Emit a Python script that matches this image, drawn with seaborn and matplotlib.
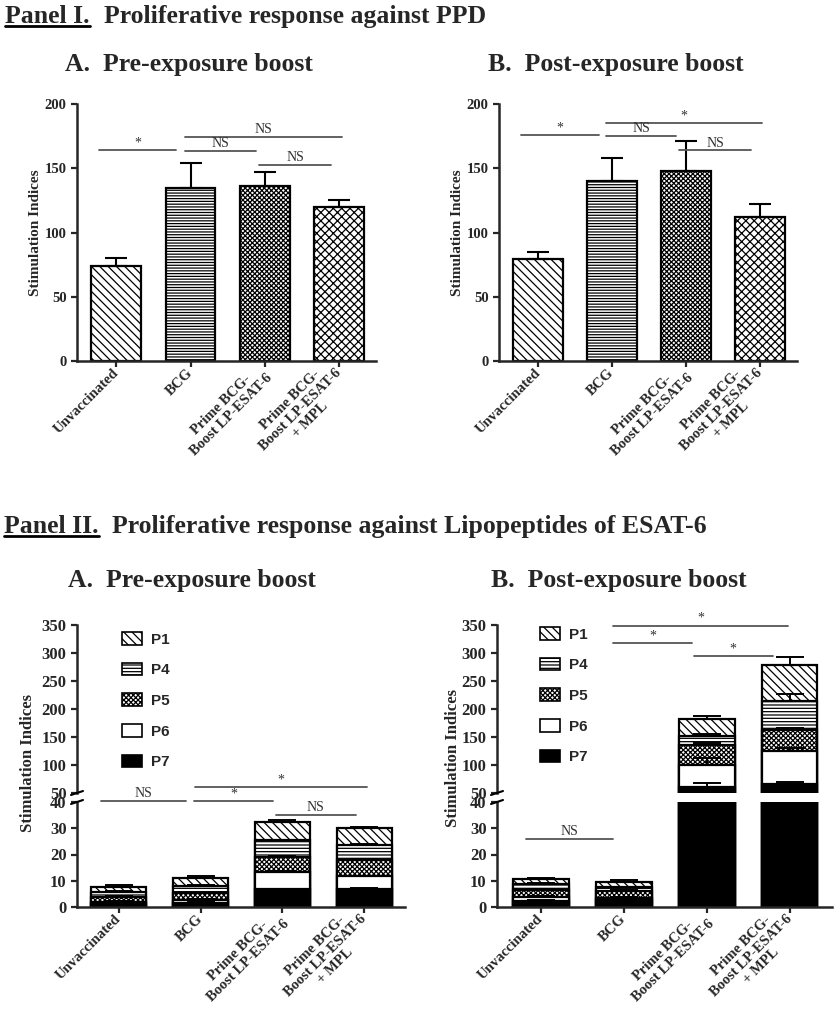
import numpy as np
import pandas as pd
import seaborn as sns
import matplotlib.pyplot as plt
from matplotlib.patches import Patch
from matplotlib.lines import Line2D

# ---- data ----
groups = ["Unvaccinated", "BCG", "Prime BCG-\nBoost LP-ESAT-6",
          "Prime BCG-\nBoost LP-ESAT-6\n+ MPL"]

# Panel I (PPD)
ppd_pre = [74, 135, 136, 120]
ppd_pre_sem = [6, 19, 11, 5]
ppd_post = [79, 140, 148, 112]
ppd_post_sem = [6, 18, 23, 10]

# Panel II (lipopeptides), stacked bottom -> top
peptides = ["P7", "P6", "P5", "P4", "P1"]
pre_p7 = [1.0, 1.5, 6.7, 6.7]
pre_p6 = [1.0, 1.3, 6.7, 5.1]
pre_p5 = [2.0, 2.4, 5.8, 6.1]
pre_p4 = [1.8, 2.8, 6.3, 5.8]
pre_p1 = [2.0, 2.9, 7.0, 6.3]
pre_err = [[0.2, 0.3, 0.3, 0.6], [0.2, 0.3, 0.3, 0.2], [0.2, 0.3, 0.3, 0.5],
           [0.2, 0.3, 0.2, 0.3], [0.4, 0.9, 0.7, 0.3]]

post_p7 = [2.2, 2.7, 60, 66]
post_p6 = [1.7, 0.9, 40, 59]
post_p5 = [2.6, 2.6, 36, 38]
post_p4 = [2.3, 1.3, 16, 52]
post_p1 = [1.8, 2.0, 30, 63]
post_err = [[0.3, 0.3, 8, 4], [0.2, 0.3, 12, 5], [0.3, 0.4, 4, 3],
            [0.2, 0.3, 3, 11], [0.3, 0.8, 6, 15]]

# significance brackets: (x start, x end, y, label)
sig_I_A = [(-0.23, 0.81, 164, "*"), (0.92, 1.88, 163.5, "NS"),
           (0.92, 3.04, 174.5, "NS"), (1.92, 2.90, 152.6, "NS")]
sig_I_B = [(-0.23, 0.82, 176, "*"), (0.92, 1.87, 175, "NS"),
           (0.92, 3.03, 185, "*"), (1.91, 2.88, 164, "NS")]
sig_II_A_hi = [(0.93, 3.04, 60.7, "*")]
sig_II_A_lo = [(-0.22, 0.82, 40.4, "NS"), (0.92, 1.89, 40.4, "*"), (1.92, 2.90, 35, "NS")]
sig_II_B_hi = [(0.87, 2.98, 349, "*"), (0.87, 1.82, 318, "*"), (1.84, 2.80, 295, "*")]
sig_II_B_lo = [(-0.18, 0.87, 26, "NS")]

ppd_hatches = ["\\\\\\\\", "------", "xxxxxxx", "xxxx"]
pep_face = ["black", "white", "white", "white", "white"]
pep_hatch = [None, None, "xxxxxxx", "-----", "\\\\\\\\"]

# ---- style ----
sns.set_style("ticks")
plt.rcParams['font.family'] = ['Liberation Serif', 'DejaVu Serif']
plt.rcParams['font.weight'] = 'bold'
plt.rcParams['hatch.linewidth'] = 0.9
plt.rcParams['axes.linewidth'] = 1.8

W, H = 835, 1015
fig = plt.figure(figsize=(W / 100, H / 100), dpi=100)


def box(x0, y_top, w, h):
    return [x0 / W, 1 - (y_top + h) / H, w / W, h / H]


def add_sig(ax, items):
    for x0, x1, y, txt in items:
        ax.plot([x0, x1], [y, y], color="#555555", lw=1.3, clip_on=False)
        ax.annotate(txt, xy=((x0 + x1) / 2, y), xytext=(0, 0.5), textcoords="offset points",
                    ha="center", va="bottom", fontsize=10, fontweight="normal",
                    color="#333333", annotation_clip=False)


def set_xlabels(ax, fs):
    ax.set_xticks(range(len(groups)))
    ax.set_xticklabels(groups, rotation=45, ha="right", va="center", rotation_mode="anchor",
                       multialignment="center", fontsize=fs, fontweight="bold",
                       linespacing=1.1)
    ax.tick_params(axis="x", pad=3)
    ax.set_xlabel("")


def ppd_panel(ax, means, sem, sig):
    df = pd.DataFrame({"group": groups, "SI": means})
    sns.barplot(data=df, x="group", y="SI", order=groups, ax=ax, color="white", saturation=1,
                edgecolor="black", linewidth=1.6, width=0.67, errorbar=None)
    for bar, h in zip(ax.patches, ppd_hatches):
        bar.set_hatch(h)
    ax.errorbar(np.arange(4), means, yerr=[np.zeros(4), sem], fmt="none", ecolor="black",
                elinewidth=1.5, capsize=8, capthick=1.5)
    ax.set_ylim(0, 200)
    ax.set_yticks([0, 50, 100, 150, 200])
    ax.set_xlim(-0.53, 3.5)
    ax.set_ylabel("Stimulation Indices", fontsize=11, fontweight="bold")
    ax.yaxis.set_label_coords(-0.118, 0.5)
    ax.tick_params(axis="both", width=1.6, length=4, labelsize=10.5)
    set_xlabels(ax, 10.5)
    sns.despine(ax=ax)
    add_sig(ax, sig)


def pep_panel(ax_hi, ax_lo, layers, errs, sig_hi, sig_lo, xlim, leg_xy, ylab_xy):
    cum = np.cumsum(np.array(layers, dtype=float), axis=0)
    for ax in (ax_hi, ax_lo):
        for k in range(len(peptides) - 1, -1, -1):
            df = pd.DataFrame({"group": groups, "SI": cum[k]})
            sns.barplot(data=df, x="group", y="SI", order=groups, ax=ax, color=pep_face[k],
                        saturation=1, edgecolor="black", linewidth=1.6, width=0.67,
                        errorbar=None, hatch=pep_hatch[k])
        for k in range(len(peptides)):
            ax.errorbar(np.arange(4), cum[k], yerr=[np.zeros(4), errs[k]], fmt="none",
                        ecolor="black", elinewidth=1.4, capsize=10, capthick=1.4)
        ax.set_xlim(*xlim)
        ax.set_ylabel("")
        ax.tick_params(axis="both", width=1.6, length=4, labelsize=12)
    ax_hi.set_ylim(50, 350)
    ax_hi.set_yticks(range(50, 351, 50))
    ax_hi.set_xticks([])
    ax_hi.set_xlabel("")
    sns.despine(ax=ax_hi, bottom=True)
    ax_lo.set_ylim(0, 40)
    ax_lo.set_yticks(range(0, 41, 10))
    set_xlabels(ax_lo, 10.5)
    sns.despine(ax=ax_lo)
    add_sig(ax_hi, sig_hi)
    add_sig(ax_lo, sig_lo)

    # axis break marks
    xs = ax_lo.get_position().x0
    for yy in (ax_hi.get_position().y0, ax_lo.get_position().y1):
        fig.add_artist(Line2D([xs - 6 / W, xs + 6 / W], [yy - 2 / H, yy + 2 / H],
                              color="black", lw=1.5, transform=fig.transFigure))

    handles = [Patch(facecolor=pep_face[k], edgecolor="black", hatch=pep_hatch[k], lw=1.2,
                     label=peptides[k]) for k in range(len(peptides) - 1, -1, -1)]
    ax_hi.legend(handles=handles, loc="upper left", bbox_to_anchor=leg_xy,
                 bbox_transform=fig.transFigure, frameon=False, handlelength=1.3,
                 handleheight=0.9, labelspacing=1.05, handletextpad=0.6, borderpad=0,
                 borderaxespad=0,
                 prop={"family": "Liberation Sans", "weight": "bold", "size": 11})
    fig.text(ylab_xy[0], ylab_xy[1], "Stimulation Indices", rotation=90, ha="center",
             va="center", fontsize=12, fontweight="bold")


ax1 = fig.add_axes(box(77, 104, 299, 257))
ax2 = fig.add_axes(box(499, 104, 298, 257))
ppd_panel(ax1, ppd_pre, ppd_pre_sem, sig_I_A)
ppd_panel(ax2, ppd_post, ppd_post_sem, sig_I_B)

ax3h = fig.add_axes(box(77, 625, 328, 168))
ax3l = fig.add_axes(box(77, 802, 328, 105))
ax4h = fig.add_axes(box(497, 625, 335, 168))
ax4l = fig.add_axes(box(497, 802, 335, 105))
pep_panel(ax3h, ax3l, [pre_p7, pre_p6, pre_p5, pre_p4, pre_p1], pre_err,
          sig_II_A_hi, sig_II_A_lo, (-0.51, 3.5), (122 / W, 1 - 632 / H),
          (28 / W, 1 - 763 / H))
pep_panel(ax4h, ax4l, [post_p7, post_p6, post_p5, post_p4, post_p1], post_err,
          sig_II_B_hi, sig_II_B_lo, (-0.53, 3.51), (540 / W, 1 - 627 / H),
          (453 / W, 1 - 758 / H))

# ---- titles ----
renderer = fig.canvas.get_renderer()


def panel_title(x, y_base, head, rest):
    t = fig.text(x / W, 1 - y_base / H, head, fontsize=18.5, fontweight="bold", va="baseline")
    bb = t.get_window_extent(renderer)
    fig.add_artist(Line2D([bb.x0 / W, bb.x1 / W], [(1 - (y_base + 3) / H)] * 2,
                          color="black", lw=2, transform=fig.transFigure))
    fig.text((bb.x1 + 14) / W, 1 - y_base / H, rest, fontsize=18.5, fontweight="bold",
             va="baseline")


panel_title(5, 23, "Panel I.", "Proliferative response against PPD")
panel_title(4, 533, "Panel II.", "Proliferative response against Lipopeptides of ESAT-6")

for x, yb, s in [(65, 71, "A.  Pre-exposure boost"), (488, 71, "B.  Post-exposure boost"),
                 (68, 587, "A.  Pre-exposure boost"), (491, 587, "B.  Post-exposure boost")]:
    fig.text(x / W, 1 - yb / H, s, fontsize=18.5, fontweight="bold", va="baseline")

fig.savefig("out.png", dpi=100)
